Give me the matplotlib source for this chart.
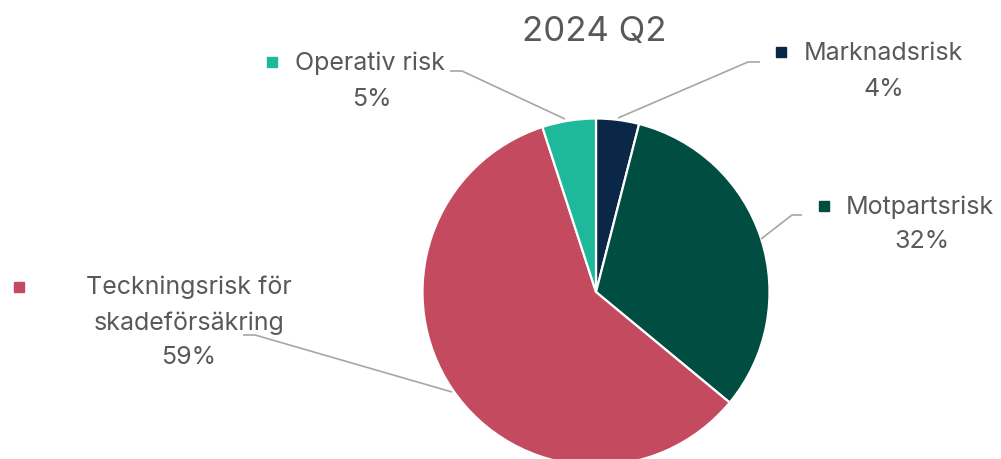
import matplotlib
matplotlib.use("Agg")
import matplotlib.pyplot as plt

title = "2024 Q2"
categories = ["Marknadsrisk", "Motpartsrisk", "Teckningsrisk för\nskadeförsäkring", "Operativ risk"]
values = [4, 32, 59, 5]
pct_labels = ["4%", "32%", "59%", "5%"]
colors = ["#0B2748", "#004D42", "#C44A60", "#1EB89B"]

W, H = 1001, 459
fig = plt.figure(figsize=(W / 100, H / 100), dpi=100)
ax = fig.add_axes([0, 0, 1, 1])

def Y(y):
    return H - y

cx, cy, r = 596, 292, 173.5
wedges, _ = ax.pie(values, colors=colors, startangle=90, counterclock=False,
                   center=(cx, Y(cy)), radius=r, frame=True,
                   wedgeprops=dict(edgecolor="white", linewidth=1.6))
ax.set_xlim(0, W)
ax.set_ylim(0, H)
ax.axis("off")
ax.set_aspect("auto")

font = "Inter"
tc = "#595959"
lc = "#A6A6A6"
fs = 18

ax.text(594, Y(32), title, ha="center", va="center", fontsize=25, color=tc, family=font)

lab = [
    dict(mk=(781, 52), txt=[(804, 53, "left", categories[0]), (884, 89, "center", pct_labels[0])],
         line=[(618, 118), (748, 62), (760, 62)]),
    dict(mk=(824, 206), txt=[(846, 207, "left", categories[1]), (922, 242, "center", pct_labels[1])],
         line=[(761, 239), (792, 215), (802, 215)]),
    dict(mk=(19, 287), txt=[(189, 287, "center", categories[2].split("\n")[0]),
                            (189, 323, "center", categories[2].split("\n")[1]),
                            (189, 358, "center", pct_labels[2])],
         line=[(452, 392), (255, 335), (243, 335)]),
    dict(mk=(272, 62), txt=[(295, 63, "left", categories[3]), (372, 99, "center", pct_labels[3])],
         line=[(565, 119), (462, 71), (450, 71)]),
]

for i, d in enumerate(lab):
    xs = [p[0] for p in d["line"]]
    ys = [Y(p[1]) for p in d["line"]]
    ax.plot(xs, ys, color=lc, lw=1.2, solid_capstyle="butt")
    ax.plot([d["mk"][0]], [Y(d["mk"][1])], marker="s", ms=7, color=colors[i], linestyle="none")
    for (x, y, ha, s) in d["txt"]:
        ax.text(x, Y(y), s, ha=ha, va="center", fontsize=fs, color=tc, family=font)

fig.savefig("out.png", dpi=100)
